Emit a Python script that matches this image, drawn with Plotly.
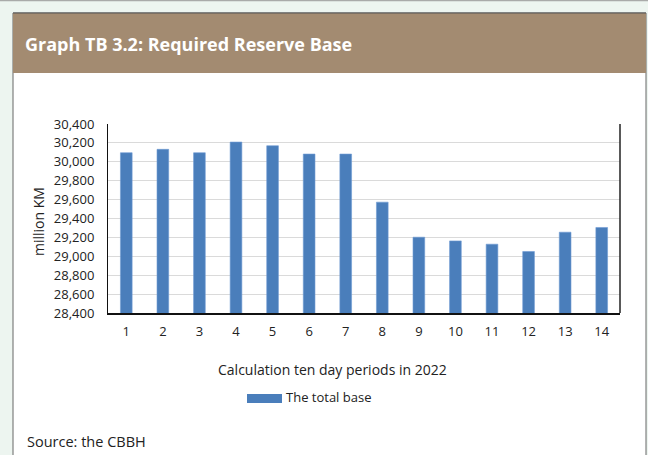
import plotly.graph_objects as go

periods = [str(i) for i in range(1, 15)]
total_base = [30096, 30132, 30096, 30209, 30170, 30082, 30082,
              29573, 29202, 29163, 29128, 29051, 29255, 29305]
y_ticks = list(range(28400, 30401, 200))

W, H = 648, 455
L, R, T, B = 108, 620, 124, 313  # plot area in pixels


def px(x):
    return (x - L) / (R - L)


def py(y):
    return (B - y) / (B - T)


font = "Open Sans"

fig = go.Figure(
    data=[
        go.Bar(
            x=periods,
            y=total_base,
            width=0.32,
            marker=dict(color="#4a7ebb", line=dict(color="#6e9bd3", width=0.6)),
            name="The total base",
            showlegend=False,
        )
    ]
)

fig.update_layout(
    width=W,
    height=H,
    margin=dict(l=L, r=W - R, t=T, b=H - B, pad=0),
    paper_bgcolor="#edf5f0",
    plot_bgcolor="white",
    font=dict(family=font, size=13, color="#222"),
)
fig.update_yaxes(
    range=[28400, 30400],
    tickvals=y_ticks,
    tickformat=",d",
    showgrid=True,
    gridcolor="#dadada",
    gridwidth=1,
    showline=True,
    linecolor="#111",
    linewidth=1,
    ticks="outside",
    ticklen=10,
    tickcolor="rgba(0,0,0,0)",
    zeroline=False,
    tickfont=dict(size=13),
)
fig.update_xaxes(
    showline=True,
    linecolor="#111",
    linewidth=1.5,
    ticks="outside",
    ticklen=6,
    tickcolor="rgba(0,0,0,0)",
    tickfont=dict(size=13),
)

shapes = [
    # page top line
    dict(type="line", xref="paper", yref="paper", x0=px(0), x1=px(W), y0=py(0.5), y1=py(0.5),
         line=dict(color="#a9aaa9", width=1.5), layer="below"),
    # white card
    dict(type="rect", xref="paper", yref="paper", x0=px(13), x1=px(646), y0=py(13), y1=py(H + 5),
         fillcolor="white", line=dict(color="#666", width=1), layer="below"),
    # header band
    dict(type="rect", xref="paper", yref="paper", x0=px(13), x1=px(646), y0=py(13), y1=py(73),
         fillcolor="#a38b71", line=dict(width=0), layer="below"),
    dict(type="line", xref="paper", yref="paper", x0=px(13), x1=px(646), y0=py(13), y1=py(13),
         line=dict(color="#555", width=1), layer="below"),
    # right border of plot area
    dict(type="line", xref="paper", yref="paper", x0=1, x1=1, y0=0, y1=1,
         line=dict(color="#222", width=1.5)),
    # legend swatch
    dict(type="rect", xref="paper", yref="paper", x0=px(247), x1=px(282), y0=py(394), y1=py(403),
         fillcolor="#4a7ebb", line=dict(width=0)),
]

annotations = [
    dict(text="<b>Graph TB 3.2: Required Reserve Base</b>", x=px(23), y=py(44),
         xanchor="left", yanchor="middle", font=dict(size=18, color="white", family=font)),
    dict(text="million KM", x=px(38), y=py(222), textangle=-90,
         xanchor="center", yanchor="middle", font=dict(size=14)),
    dict(text="Calculation ten day periods in 2022", x=px(332), y=py(369),
         xanchor="center", yanchor="middle", font=dict(size=14)),
    dict(text="The total base", x=px(284), y=py(397),
         xanchor="left", yanchor="middle", font=dict(size=13)),
    dict(text="Source: the CBBH", x=px(25), y=py(441),
         xanchor="left", yanchor="middle", font=dict(size=14.5)),
]
for a in annotations:
    a.update(xref="paper", yref="paper", showarrow=False)

fig.update_layout(shapes=shapes, annotations=annotations)

# drop the default page margin so the figure sits at the window's corner
fig.write_html(
    "out.html",
    config={"displayModeBar": False},
    post_script="document.body.style.margin='0';",
)
